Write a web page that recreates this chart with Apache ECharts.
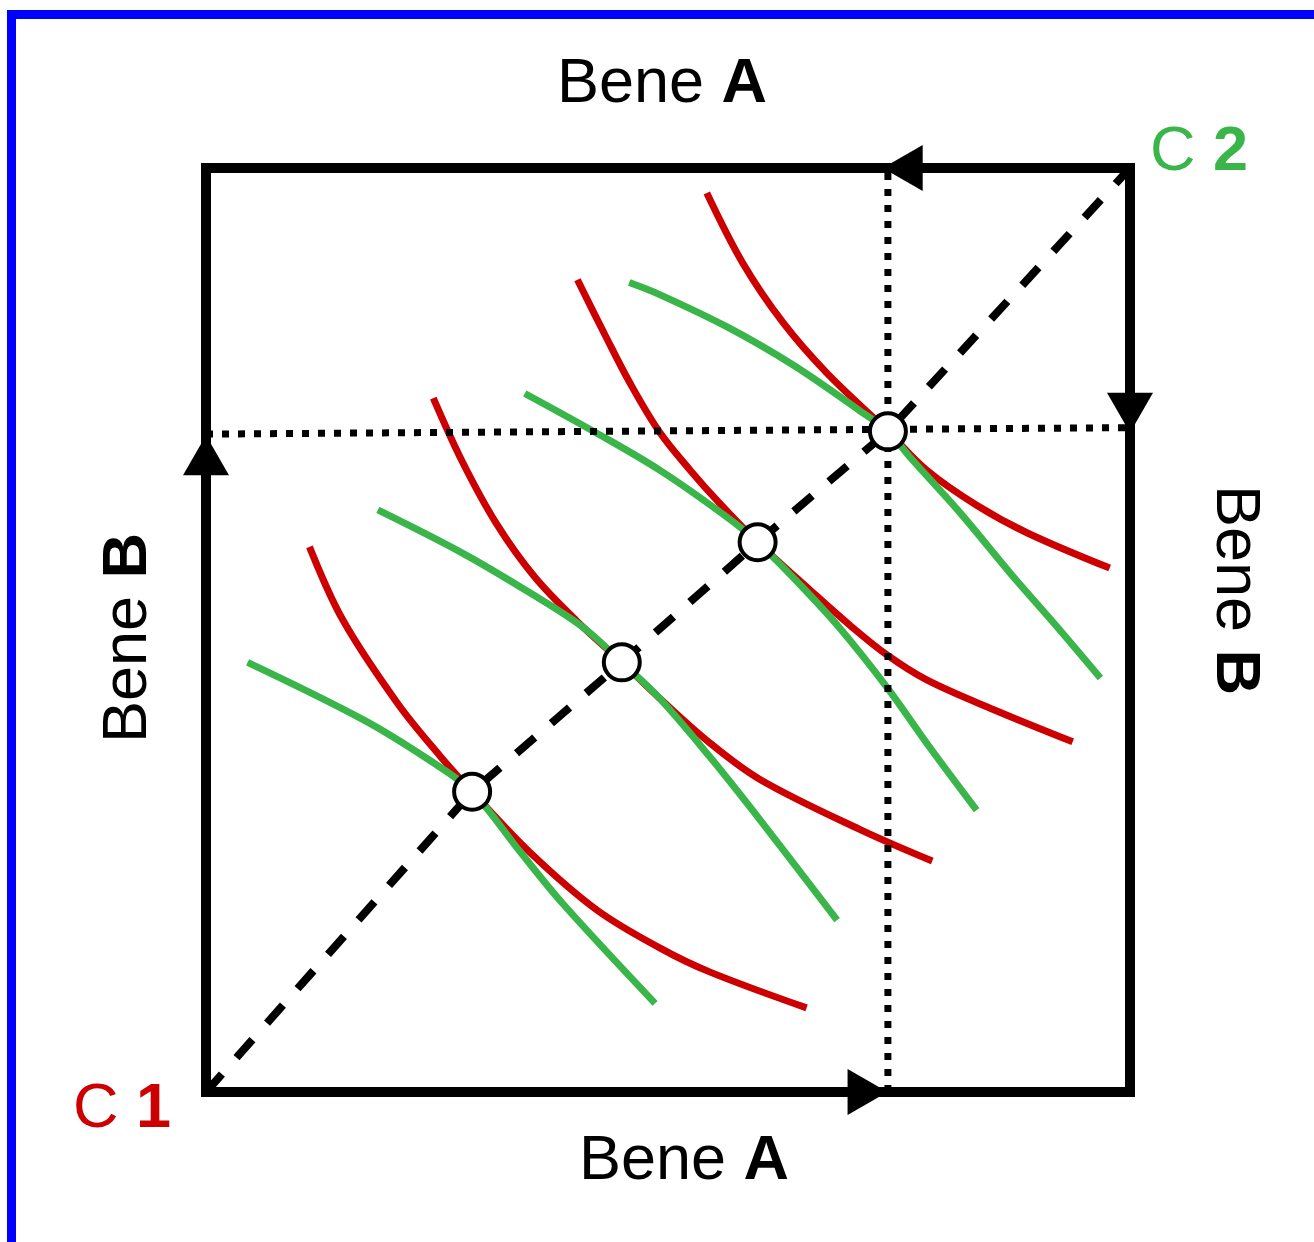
<!DOCTYPE html>
<html>
<head>
<meta charset="utf-8">
<script src="https://cdn.jsdelivr.net/npm/echarts@6/dist/echarts.min.js"></script>
<style>
html,body{margin:0;padding:0;background:#fff;}
#c{width:1314px;height:1242px;}
</style>
</head>
<body>
<div id="c"></div>
<script>
// Indifference curves of consumer 1 (red) and consumer 2 (green), box units 0..100
const red1 = [[11.2,59.0],[14.8,51.1],[20.7,42.1],[25.3,36.4],[28.8,32.5],[35.1,25.9],[42.3,19.7],[49.1,15.6],[54.5,13.0],[65.0,9.1]];
const green1 = [[4.5,46.5],[17.0,40.3],[24.2,35.9],[28.8,32.5],[34.0,26.0],[38.6,20.4],[48.6,9.6]];
const red2 = [[24.6,75.1],[27.8,68.1],[31.5,61.4],[35.6,55.7],[40.2,50.9],[45.0,46.5],[49.1,42.6],[54.5,37.8],[60.0,33.8],[70.8,28.4],[78.6,25.0]];
const green2 = [[18.6,63.0],[27.8,58.3],[35.1,54.0],[40.8,50.3],[45.0,46.5],[49.1,42.6],[54.5,36.3],[60.0,29.4],[68.3,18.6]];
const red3 = [[40.2,87.9],[43.2,81.9],[45.9,76.7],[49.1,71.4],[52.4,67.3],[55.6,63.7],[59.7,59.5],[65.4,54.3],[69.7,50.5],[73.7,47.3],[78.0,44.6],[85.2,41.4],[93.8,37.9]];
const green3 = [[34.5,75.6],[42.3,71.3],[49.1,67.3],[56.4,62.2],[59.7,59.5],[64.3,54.9],[68.6,50.2],[73.7,43.8],[78.4,37.2],[83.4,30.5]];
const red4 = [[54.2,97.3],[58.1,89.7],[62.5,83.2],[67.2,77.8],[73.8,71.5],[78.0,67.3],[83.4,63.5],[88.9,60.5],[97.8,56.7]];
const green4 = [[45.8,87.6],[49.1,86.3],[56.4,82.8],[63.5,78.7],[70.8,73.7],[73.8,71.5],[76.2,68.7],[81.6,62.7],[87.0,56.2],[92.4,50.0],[96.8,44.8]];
// Tangency points (contract curve)
const tangency = [[28.8,32.5],[45.0,46.5],[59.7,59.5],[73.8,71.5]];
const contract = [[0,0]].concat(tangency, [[100,100]]);
// Endowment reference lines
const endowX = 73.8;
const endowYLeft = 71.2, endowYRight = 71.9;
// Box and arrows: [x, y, rotation]
const box = [[0,0],[100,0],[100,100],[0,100],[0,0]];
const arrows = [[0,68.9,0],[100,73.5,180],[75.4,100,90],[71.6,0,-90]];
// Labels
const labelTop = 'Bene {b|A}', labelBottom = 'Bene {b|A}', labelLeft = 'Bene {b|B}', labelRight = 'Bene {b|B}';
const labelC1 = 'C {b|1}', labelC2 = 'C {b|2}';

const RED = '#CC0000', GREEN = '#39B54A';
const FF = '"Liberation Sans", Arial, Helvetica, sans-serif';
const FS = 63;

function curve(data, color) {
  return {type:'line', data:data, smooth:0.35, showSymbol:false, symbol:'none', z:2,
    lineStyle:{color:color, width:7, cap:'butt'}, silent:true};
}
function txt(text, x, y, color, rot, align) {
  return {type:'text', x:x, y:y, rotation:rot||0, z:100,
    style:{text:text, fill:color, fontSize:FS, fontFamily:FF, align:align||'center', verticalAlign:'middle',
      rich:{b:{fontWeight:'bold', fontSize:FS, fontFamily:FF, fill:color}}}};
}

const chart = echarts.init(document.getElementById('c'), null, {renderer:'canvas'});
chart.setOption({
  animation:false,
  backgroundColor:'#fff',
  grid:{left:206, top:168, width:924, height:924},
  xAxis:{type:'value', min:0, max:100, show:false},
  yAxis:{type:'value', min:0, max:100, show:false},
  graphic:[
    {type:'rect', shape:{x:11.5, y:14.5, width:2000, height:2000}, style:{fill:'none', stroke:'#0000FF', lineWidth:9}, z:100},
    txt(labelTop, 662, 85, '#000'),
    txt(labelBottom, 684, 1162, '#000'),
    txt(labelLeft, 129, 638, '#000', Math.PI/2),
    txt(labelRight, 1234, 590, '#000', -Math.PI/2),
    txt(labelC1, 73, 1110, RED, 0, 'left'),
    txt(labelC2, 1150, 153, GREEN, 0, 'left')
  ],
  series:[
    curve(red1, RED), curve(green1, GREEN),
    curve(red2, RED), curve(green2, GREEN),
    curve(red3, RED), curve(green3, GREEN),
    curve(red4, RED), curve(green4, GREEN),
    {type:'line', data:contract, showSymbol:false, symbol:'none', z:3, silent:true,
      lineStyle:{color:'#000', width:8, type:[24,22], cap:'butt'}},
    {type:'line', data:[[endowX,0],[endowX,100]], showSymbol:false, symbol:'none', z:4, silent:true,
      lineStyle:{color:'#000', width:7, type:[7,9], cap:'butt'}},
    {type:'line', data:[[0,endowYLeft],[100,endowYRight]], showSymbol:false, symbol:'none', z:4, silent:true,
      lineStyle:{color:'#000', width:7, type:[7,9], cap:'butt'}},
    {type:'line', data:box, showSymbol:false, symbol:'none', z:5, silent:true,
      lineStyle:{color:'#000', width:10, join:'miter', cap:'square'}},
    {type:'scatter', data:arrows, symbol:'triangle', symbolSize:[46,40], z:6, silent:true,
      symbolRotate:function(v){return v[2];}, itemStyle:{color:'#000', opacity:1}},
    {type:'scatter', data:tangency, symbol:'circle', symbolSize:36, z:7, silent:true,
      itemStyle:{color:'#fff', borderColor:'#000', borderWidth:4, opacity:1}}
  ]
});
</script>
</body>
</html>
